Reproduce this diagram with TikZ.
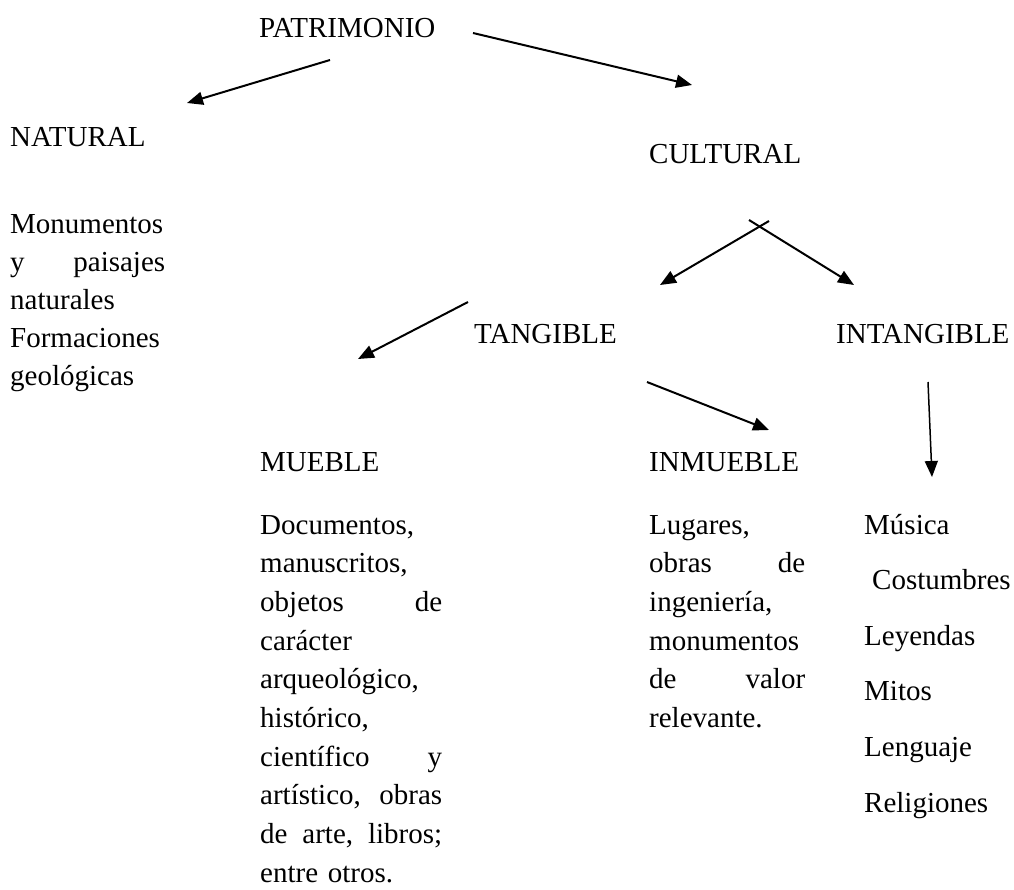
\documentclass[tikz,border=0pt]{standalone}
\usepackage{fontspec}
\setmainfont{Liberation Serif}
\usetikzlibrary{arrows.meta}
\begin{document}
\begin{tikzpicture}[x=1pt,y=-1pt,color=black,
  lbl/.style={anchor=base west,inner sep=0pt,font=\fontsize{29}{38.7}\selectfont},
  blk/.style={lbl,align=left,text width=#1},
  flecha/.style={line width=2pt,-{Triangle[length=16pt,width=13pt]}}]
\useasboundingbox (0,0) rectangle (1014,890);
\node(PAT) [lbl] at (259,38) {PATRIMONIO};
\node(NAT) [lbl] at (10,147) {NATURAL};
\node(CUL) [lbl] at (649,164) {CULTURAL};
\node(NATt) [blk=155pt,font=\fontsize{29}{38}\selectfont] at (10,234) {Monumentos\\ y\hfill paisajes\\ naturales\\ Formaciones\\ geológicas};

\node(TAN) [lbl] at (474,343) {TANGIBLE};
\node(INT) [lbl] at (836,343) {INTANGIBLE};
\node(MUE) [lbl] at (260,471) {MUEBLE};
\node(INM) [lbl] at (649,471) {INMUEBLE};

\node(MUEt) [blk=182pt] at (260,534) {Documentos,\\ manuscritos,\\ objetos\hfill de\\ carácter\\ arqueológico,\\ histórico,\\ científico\hfill y\\ artístico,\hfill obras\\ de\hfill arte,\hfill libros;\\ entre otros.};
\node(INMt) [blk=156pt] at (649,534) {Lugares,\\ obras\hfill de\\ ingeniería,\\ monumentos\\ de\hfill valor\\ relevante.};
\node(INTt) [blk=150pt,font=\fontsize{29}{55.6}\selectfont] at (864,534) {Música\\ \hspace{8pt}Costumbres\\ Leyendas\\ Mitos\\ Lenguaje\\ Religiones};

\coordinate(PN1) at (330,60);
\coordinate(PN2) at (187,103);
\coordinate(PC1) at (473,33);
\coordinate(PC2) at (692,85);
\coordinate(CT1) at (769,221);
\coordinate(CT2) at (660,285);
\coordinate(CI1) at (749,220);
\coordinate(CI2) at (854,285);
\coordinate(TM1) at (468,302);
\coordinate(TM2) at (358,359);
\coordinate(TI1) at (647,382);
\coordinate(TI2) at (769,430);
\coordinate(II1) at (928,382);
\coordinate(II2) at (932,477);
\draw[flecha] (PN1) -- (PN2);
\draw[flecha] (PC1) -- (PC2);
\draw[flecha] (CT1) -- (CT2);
\draw[flecha] (CI1) -- (CI2);
\draw[flecha] (TM1) -- (TM2);
\draw[flecha] (TI1) -- (TI2);
\draw[flecha,line width=1.5pt] (II1) -- (II2);
\end{tikzpicture}
\end{document}
